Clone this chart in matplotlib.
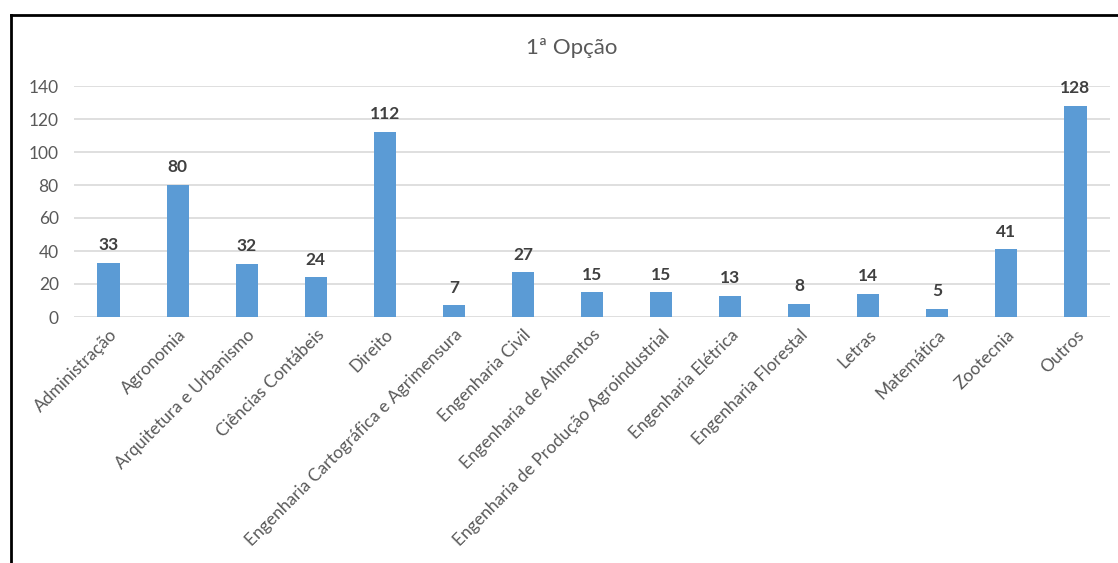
import matplotlib.pyplot as plt
from matplotlib.lines import Line2D

plt.rcParams['font.family'] = ['Lato', 'DejaVu Sans']

cursos = ['Administração', 'Agronomia', 'Arquitetura e Urbanismo', 'Ciências Contábeis',
          'Direito', 'Engenharia Cartográfica e Agrimensura', 'Engenharia Civil',
          'Engenharia de Alimentos', 'Engenharia de Produção Agroindustrial',
          'Engenharia Elétrica', 'Engenharia Florestal', 'Letras', 'Matemática',
          'Zootecnia', 'Outros']
inscritos = [33, 80, 32, 24, 112, 7, 27, 15, 15, 13, 8, 14, 5, 41, 128]

W, H = 1118, 563
fig = plt.figure(figsize=(W / 100, H / 100), dpi=100)
ax = fig.add_axes([74 / W, (H - 317) / H, (1110 - 74) / W, (317 - 86) / H])

x = range(len(cursos))
ax.bar(x, inscritos, width=0.32, color='#5B9BD5', zorder=3)
for xi, v in zip(x, inscritos):
    ax.annotate(str(v), (xi, v), xytext=(0, 7), textcoords='offset points',
                ha='center', va='bottom', fontsize=12.5, fontweight='bold', color='#404040')

ax.set_xlim(-0.5, len(cursos) - 0.5)
ax.set_ylim(0, 140)
ax.set_yticks(range(0, 141, 20))
ax.grid(axis='y', color='#d9d9d9', linewidth=1.2, zorder=0)
for s in ax.spines.values():
    s.set_visible(False)
ax.tick_params(axis='both', length=0, labelsize=12.5, labelcolor='#595959')
ax.tick_params(axis='y', pad=11)
ax.set_xticks(list(x))
ax.set_xticklabels(cursos, rotation=45, ha='right', va='top', rotation_mode='anchor')
ax.tick_params(axis='x', pad=7)

fig.text(572 / W, 1 - 48 / H, '1ª Opção', ha='center', va='center', fontsize=16, color='#595959')

# moldura (topo e lado esquerdo)
fig.add_artist(Line2D([11 / W, 1], [1 - 15 / H, 1 - 15 / H], color='black', linewidth=2, transform=fig.transFigure))
fig.add_artist(Line2D([11 / W, 11 / W], [0, 1 - 15 / H], color='black', linewidth=2, transform=fig.transFigure))

fig.savefig('out.png', dpi=100)
